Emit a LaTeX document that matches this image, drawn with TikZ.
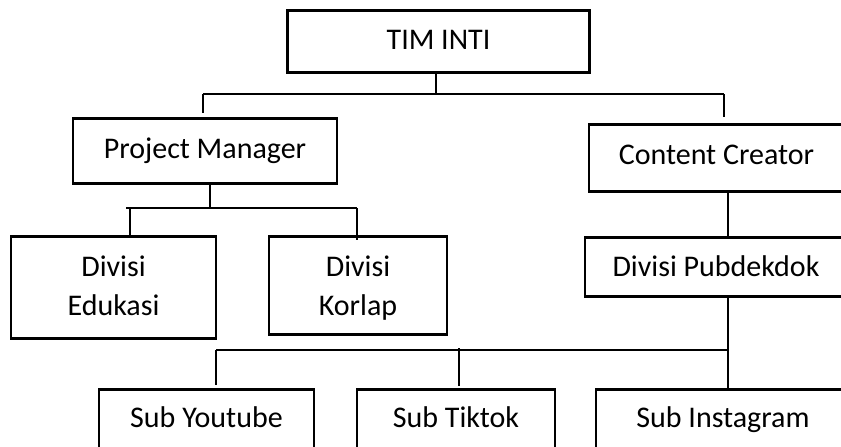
\documentclass[tikz,border=0pt]{standalone}
\usepackage{fontspec}
\setmainfont{Carlito}
\begin{document}
\begin{tikzpicture}[x=1pt,y=-1pt,
  box/.style={draw, line width=2.6pt, inner xsep=0pt, inner ysep=0pt, anchor=north,
    font=\fontsize{30}{39}\selectfont},
  conn/.style={line width=1.2pt}]
\fill[white] (0,0) rectangle (841,447);
\useasboundingbox (0,0) rectangle (841,447);
\clip (0,0) rectangle (841,447);
% nodes
\node[box, minimum width=302pt, text height=39.5pt, text depth=22.5pt] (tim) at (438.5,9) {TIM INTI};
\node[box, minimum width=264pt, text height=40pt, text depth=25pt] (pm) at (205,117) {Project Manager};
\node[box, minimum width=255pt, text height=40pt, text depth=27pt] (cc) at (716.5,123) {Content Creator};
\node[box, minimum width=205pt, text height=40pt, text depth=62pt] (edu) at (113.5,235)
  {\parbox[t]{190pt}{\centering Divisi\\Edukasi}};
\node[box, minimum width=178pt, text height=40pt, text depth=58pt] (kor) at (358,235)
  {\parbox[t]{170pt}{\centering Divisi\\Korlap}};
\node[box, minimum width=262pt, text height=39pt, text depth=20pt] (pub) at (716,236) {Divisi Pubdekdok};
\node[box, minimum width=215pt, text height=38pt, text depth=28pt] (yt) at (206.5,388) {Sub Youtube};
\node[box, minimum width=198pt, text height=38pt, text depth=28pt] (tt) at (456,388) {Sub Tiktok};
\node[box, minimum width=254pt, text height=38pt, text depth=28pt] (ig) at (723,388) {Sub Instagram};
% junction coordinates
\coordinate (j0) at (436,94);
\coordinate (jL) at (203,94);
\coordinate (jR) at (724,94);
\coordinate (j2) at (210,208);
\coordinate (j2L) at (126,208);
\coordinate (j2a) at (130,208);
\coordinate (j2R) at (357,208);
\coordinate (j3) at (728,200);
\coordinate (j4L) at (216,350);
\coordinate (j4R) at (728,350);
\coordinate (j4M) at (459,348);
% connectors
\draw[conn] (j0 |- tim.south) -- (j0);
\draw[conn] (jL) -- (jR);
\draw[conn, shorten >=4pt] (jL) -- (jL |- pm.north);
\draw[conn, shorten >=6pt] (jR) -- (jR |- cc.north);
\draw[conn] (j2 |- pm.south) -- (j2);
\draw[conn] (j2L) -- (j2R);
\draw[conn] (j2a) -- (j2a |- edu.north);
\draw[conn, shorten >=-5pt] (j2R) -- (j2R |- kor.north);
\draw[conn] (j3 |- cc.south) -- (j3 |- pub.north);
\draw[conn] (j3 |- pub.south) -- (j3 |- ig.north);
\draw[conn] (j4L) -- (j4R);
\draw[conn, shorten >=3pt] (j4L) -- (j4L |- yt.north);
\draw[conn, shorten >=2pt] (j4M) -- (j4M |- tt.north);
\end{tikzpicture}
\end{document}
